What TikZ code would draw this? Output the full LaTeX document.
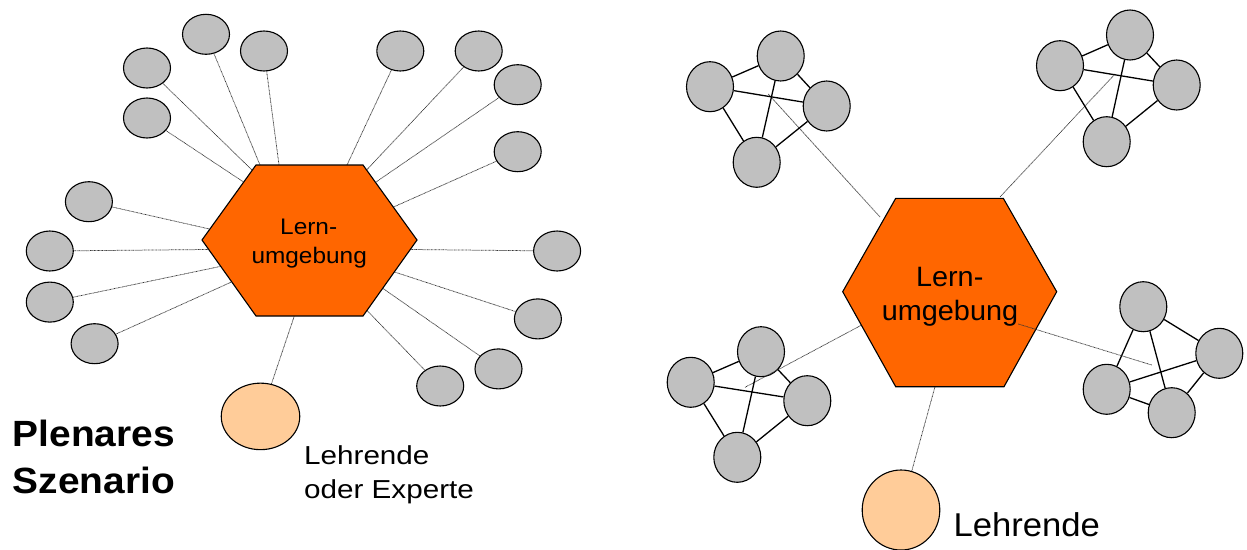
\documentclass[tikz,border=0pt]{standalone}
\usepackage{fontspec}
\setmainfont{Liberation Sans}
\usetikzlibrary{shapes.geometric}
\definecolor{nodegray}{HTML}{C0C0C0}
\definecolor{hexorange}{HTML}{FF6600}
\definecolor{peach}{HTML}{FFCC99}
\begin{document}
\begin{tikzpicture}[x=1pt,y=-1pt,
  member/.style={ellipse, draw=black, line width=1.1pt, fill=nodegray, minimum width=47pt, minimum height=40pt, inner sep=0pt},
  gmember/.style={member, minimum height=50pt},
  teacher/.style={ellipse, draw=black, line width=1.1pt, fill=peach, inner sep=0pt},
  link/.style={line width=0.75pt, black!80, dash pattern=on 0.75pt off 0.6pt},
  peer/.style={line width=1.3pt, black},
  hex/.style={draw=black, line width=1.1pt, fill=hexorange, line join=miter},
  lbl/.style={inner sep=0pt, anchor=base},
  lblw/.style={inner sep=0pt, anchor=base west}]
\useasboundingbox (0,0) rectangle (1247,549);

% ---------- left: plenary scenario ----------
\node[member] (A) at (206,34.3) {};
\node[member] (B) at (264,51) {};
\node[member] (C) at (147,68) {};
\node[member] (D) at (147,118) {};
\node[member] (E) at (400.3,51) {};
\node[member] (F) at (478.7,51) {};
\node[member] (G) at (517.7,84.7) {};
\node[member] (H) at (517.7,151.7) {};
\node[member] (I) at (88.9,201.7) {};
\node[member] (J) at (49.8,251) {};
\node[member] (K) at (49.8,302.1) {};
\node[member] (L) at (94.6,343.7) {};
\node[member] (M) at (557.1,251) {};
\node[member] (N) at (537.9,318.9) {};
\node[member] (O) at (498.5,368.9) {};
\node[member] (P) at (440.2,386) {};
\node[teacher, minimum width=78.5pt, minimum height=66.5pt] (Q) at (260.5,416.4) {};

\coordinate (hA) at (260,165);
\coordinate (hB) at (279,165);
\coordinate (hC) at (252,170);
\coordinate (hD) at (243.6,182);
\coordinate (hE) at (347,165);
\coordinate (hF) at (366.6,170);
\coordinate (hG) at (376,182);
\coordinate (hH) at (393.5,207);
\coordinate (hI) at (209.5,229);
\coordinate (hJ) at (208,249.5);
\coordinate (hK) at (220.5,266.4);
\coordinate (hL) at (231.5,282);
\coordinate (hM) at (410.5,249.5);
\coordinate (hN) at (394.5,272);
\coordinate (hO) at (383,288.5);
\coordinate (hP) at (367,310.5);
\coordinate (hQ) at (294.3,316);

\foreach \n in {A,B,C,D,E,F,G,H,I,J,K,L,M,N,O,P,Q}
  \draw[link] (\n) -- (h\n);

\draw[hex] (202,240) -- (256,165) -- (363,165) -- (417,240) -- (363,316) -- (256,316) -- cycle;
\node[lbl] (lhA) at (308.7,234.3) {\fontsize{22.5}{27}\selectfont\scalebox{1.085}[1]{Lern-}};
\node[lbl] (lhB) at (309.2,263.5) {\fontsize{22.5}{27}\selectfont\scalebox{1.085}[1]{umgebung}};

\node[lblw] (title1) at (12.7,446) {\fontsize{36.5}{40}\selectfont\bfseries\scalebox{1.065}[1]{Plenares}};
\node[lblw] (title2) at (12.7,493.3) {\fontsize{36.5}{40}\selectfont\bfseries\scalebox{1.065}[1]{Szenario}};
\node[lblw] (qt1) at (304,464) {\fontsize{26}{30}\selectfont\scalebox{1.14}[1]{Lehrende}};
\node[lblw] (qt2) at (304,498.3) {\fontsize{26}{30}\selectfont\scalebox{1.14}[1]{oder Experte}};

% ---------- right: group scenario ----------
% top-left group
\node[gmember] (a1) at (710,86.7) {};
\node[gmember] (a2) at (780.7,56) {};
\node[gmember] (a3) at (826.7,106) {};
\node[gmember] (a4) at (756.7,162.3) {};
% top-right group
\node[gmember] (b1) at (1060,65.7) {};
\node[gmember] (b2) at (1130,35) {};
\node[gmember] (b3) at (1176.7,85) {};
\node[gmember] (b4) at (1106.7,141.7) {};
% bottom-left group
\node[gmember] (c1) at (690.7,382.3) {};
\node[gmember] (c2) at (761,351.7) {};
\node[gmember] (c3) at (807.3,400.7) {};
\node[gmember] (c4) at (737.3,457.3) {};
% bottom-right group
\node[gmember] (d1) at (1143.3,306.7) {};
\node[gmember] (d2) at (1219.3,353.3) {};
\node[gmember] (d3) at (1106.7,389.3) {};
\node[gmember] (d4) at (1171.7,412.7) {};
% teacher
\node[teacher, minimum width=77.6pt, minimum height=80pt] (T) at (901,510) {};

\coordinate (ga) at (768.3,94);
\coordinate (gb) at (1115,74);
\coordinate (gc) at (745,387.3);
\coordinate (gd) at (1151.7,365);
\coordinate (ha) at (880,217);
\coordinate (hb) at (1000,197);
\coordinate (hc) at (861.7,325);
\coordinate (hd) at (1018.3,324);
\coordinate (ht) at (935,386.7);

\draw[link] (ga) -- (ha);
\draw[link] (gb) -- (hb);
\draw[link] (gc) -- (hc);
\draw[link] (T) -- (ht);

\foreach \g in {a,b,c,d}{
  \draw[peer] (\g1) -- (\g2);
  \draw[peer] (\g1) -- (\g3);
  \draw[peer] (\g1) -- (\g4);
  \draw[peer] (\g2) -- (\g3);
  \draw[peer] (\g2) -- (\g4);
  \draw[peer] (\g3) -- (\g4);
}

\draw[hex] (842.7,291.7) -- (895.7,198.3) -- (1003.3,198.3) -- (1056.7,291.7) -- (1004,386.7) -- (895.7,386.7) -- cycle;
\node[lbl] (rhA) at (949.7,286) {\fontsize{28}{32}\selectfont\scalebox{1.03}[1]{Lern-}};
\node[lbl] (rhB) at (950,320) {\fontsize{28}{32}\selectfont\scalebox{1.03}[1]{umgebung}};
\draw[link] (gd) -- (hd);

\node[lblw] (tt) at (953.3,536.7) {\fontsize{33}{36}\selectfont\scalebox{1.05}[1]{Lehrende}};
\end{tikzpicture}
\end{document}
